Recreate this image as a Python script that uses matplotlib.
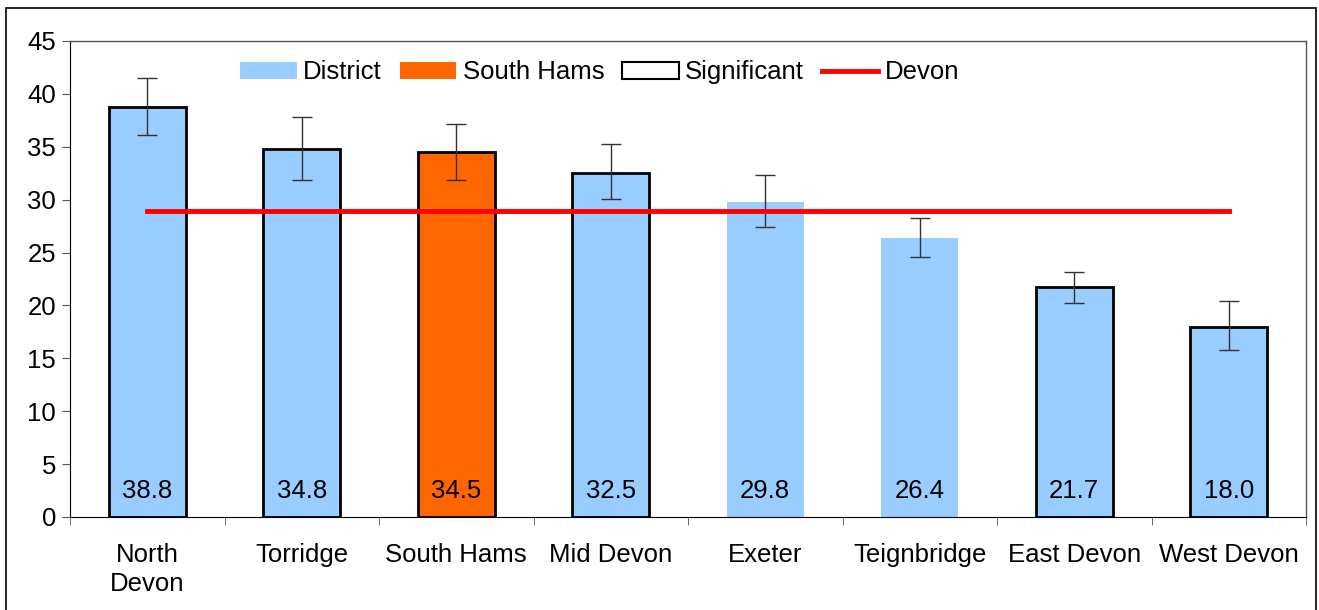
import matplotlib.pyplot as plt
from matplotlib.patches import Patch, Rectangle
from matplotlib.lines import Line2D
import numpy as np

plt.rcParams['font.family'] = ['Liberation Sans', 'DejaVu Sans']

districts = ['North\nDevon', 'Torridge', 'South Hams', 'Mid Devon', 'Exeter',
             'Teignbridge', 'East Devon', 'West Devon']
values = [38.8, 34.8, 34.5, 32.5, 29.8, 26.4, 21.7, 18.0]
err_low = [36.1, 31.9, 31.9, 30.1, 27.4, 24.6, 20.2, 15.8]
err_high = [41.5, 37.8, 37.2, 35.3, 32.3, 28.3, 23.2, 20.4]
significant = [True, True, True, True, False, False, True, True]
devon = 28.9

fs = 18.5

fig = plt.figure(figsize=(13.19, 6.10), dpi=100)
ax = fig.add_axes([70 / 1319, 1 - 517 / 610, 1236 / 1319, 476 / 610])

x = np.arange(len(districts))
colors = ['#FF6600' if d == 'South Hams' else '#99CCFF' for d in districts]
edges = ['black' if s else 'none' for s in significant]

ax.bar(x, values, width=0.5, color=colors, edgecolor=edges, linewidth=2, zorder=2)
yerr = [np.array(values) - np.array(err_low), np.array(err_high) - np.array(values)]
ax.errorbar(x, values, yerr=yerr, fmt='none', ecolor='#333333', elinewidth=1,
            capsize=7, capthick=1, zorder=3)
ax.plot([x[0], x[-1]], [devon, devon], color='#FF0000', linewidth=3.5, zorder=4)

for xi, v in zip(x, values):
    ax.text(xi, 2.45, f'{v:.1f}', ha='center', va='center', fontsize=fs, zorder=5)

ax.set_xlim(-0.5, len(districts) - 0.5)
ax.set_ylim(0, 45)
ax.set_yticks(range(0, 46, 5))
ax.set_xticks(x)
ax.set_xticklabels(districts, fontsize=fs, linespacing=1.3)
ax.set_xticks(np.arange(-0.5, len(districts), 1), minor=True)
ax.tick_params(axis='x', which='major', length=0, pad=18.5)
ax.tick_params(axis='x', which='minor', length=6, color='#555555')
ax.tick_params(axis='y', labelsize=fs, length=6, color='#555555', pad=4)
for s in ['top', 'right']:
    ax.spines[s].set_color('#555555')
    ax.spines[s].set_linewidth(1)

handles = [Patch(facecolor='#99CCFF', edgecolor='none'),
           Patch(facecolor='#FF6600', edgecolor='none'),
           Patch(facecolor='white', edgecolor='black', linewidth=1.5),
           Line2D([0], [0], color='#FF0000', linewidth=3.5)]
ax.legend(handles, ['District', 'South Hams', 'Significant', 'Devon'],
          loc='upper left', bbox_to_anchor=(0.123, 0.997), ncol=4, frameon=False,
          fontsize=fs, handlelength=2.2, handleheight=0.65, handletextpad=0.25,
          columnspacing=0.7, borderaxespad=0.3)

fig.patches.append(Rectangle((6 / 1319, -0.05), 1310 / 1319, 1.05 - 8 / 610,
                             transform=fig.transFigure, fill=False,
                             edgecolor='black', linewidth=1.2))

fig.savefig('out.png', dpi=100)
